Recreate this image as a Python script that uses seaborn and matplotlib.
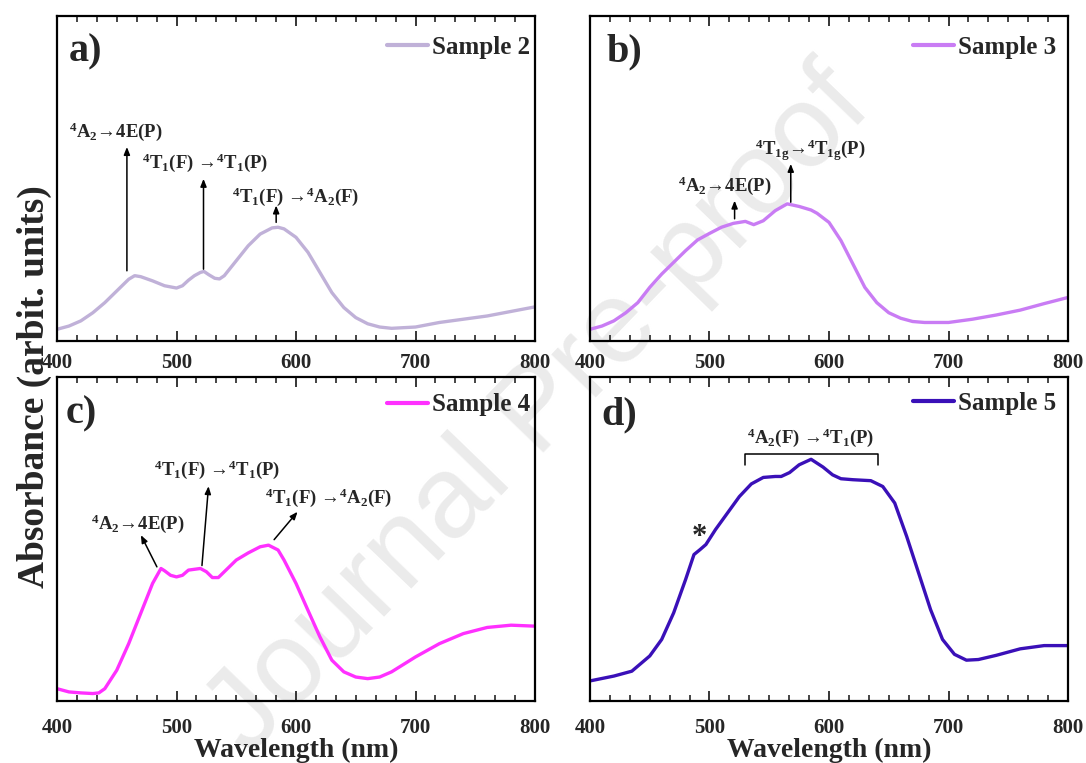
import numpy as np
import pandas as pd
import seaborn as sns
import matplotlib
matplotlib.use("Agg")
import matplotlib.pyplot as plt
from matplotlib.ticker import MultipleLocator, NullLocator

# ---------------- data (arbitrary units) ----------------
wl_a = [400, 410, 420, 430, 440, 450, 460, 465, 470, 480, 490, 500, 505, 510, 515, 520, 523, 527, 532, 536,
        540, 550, 560, 570, 580, 585, 590, 600, 610, 620, 630, 640, 650, 660, 670, 680, 700, 720, 740, 760, 780, 800]
abs_a = [0.036, 0.046, 0.062, 0.087, 0.118, 0.154, 0.190, 0.201, 0.198, 0.185, 0.170, 0.163, 0.170, 0.187, 0.201,
         0.211, 0.214, 0.204, 0.193, 0.191, 0.201, 0.247, 0.293, 0.329, 0.348, 0.350, 0.345, 0.319, 0.273, 0.211,
         0.149, 0.103, 0.072, 0.053, 0.043, 0.039, 0.043, 0.057, 0.067, 0.077, 0.091, 0.105]

wl_b = [400, 410, 420, 430, 440, 450, 460, 470, 480, 490, 500, 510, 520, 530, 537, 545, 555, 565, 575, 585, 590,
        600, 610, 620, 630, 640, 650, 660, 670, 680, 700, 720, 740, 760, 780, 800]
abs_b = [0.036, 0.046, 0.062, 0.087, 0.118, 0.165, 0.206, 0.242, 0.278, 0.311, 0.331, 0.350, 0.362, 0.368, 0.358,
         0.370, 0.401, 0.422, 0.414, 0.403, 0.393, 0.365, 0.309, 0.237, 0.165, 0.118, 0.087, 0.070, 0.060, 0.057,
         0.057, 0.067, 0.080, 0.095, 0.115, 0.134]

wl_c = [400, 410, 420, 430, 435, 440, 450, 460, 470, 480, 487, 490, 495, 500, 505, 510, 520, 525, 530, 535, 540,
        550, 560, 570, 577, 585, 590, 600, 610, 620, 630, 640, 650, 660, 670, 680, 700, 720, 740, 760, 780, 800]
abs_c = [0.038, 0.028, 0.025, 0.023, 0.025, 0.038, 0.095, 0.177, 0.270, 0.363, 0.409, 0.402, 0.388, 0.383, 0.388,
         0.404, 0.409, 0.399, 0.381, 0.381, 0.399, 0.435, 0.457, 0.476, 0.481, 0.466, 0.435, 0.363, 0.280, 0.198,
         0.126, 0.090, 0.074, 0.069, 0.074, 0.090, 0.136, 0.177, 0.208, 0.227, 0.234, 0.231]

wl_d = [400, 420, 435, 450, 460, 470, 480, 487, 492, 497, 505, 515, 525, 535, 545, 555, 560, 567, 575, 585, 595,
        603, 610, 620, 635, 645, 655, 665, 675, 685, 695, 705, 715, 725, 740, 760, 780, 800]
abs_d = [0.062, 0.077, 0.092, 0.139, 0.190, 0.272, 0.375, 0.452, 0.467, 0.483, 0.529, 0.580, 0.631, 0.670, 0.690,
         0.693, 0.693, 0.705, 0.729, 0.746, 0.722, 0.698, 0.686, 0.683, 0.680, 0.662, 0.611, 0.508, 0.395, 0.282,
         0.190, 0.144, 0.126, 0.128, 0.141, 0.161, 0.171, 0.171]

samples = ["Sample 2", "Sample 3", "Sample 4", "Sample 5"]
panel_tags = ["a)", "b)", "c)", "d)"]
colors = ["#C0B1D8", "#C97CF4", "#FF30FF", "#3A10B8"]
x_ticks = [400, 500, 600, 700, 800]

# ---------------- style ----------------
sns.set_style("ticks")
plt.rcParams["font.family"] = ["Liberation Serif", "DejaVu Serif"]
plt.rcParams["font.weight"] = "bold"
plt.rcParams["mathtext.fontset"] = "custom"
plt.rcParams["mathtext.rm"] = "Liberation Serif:bold"
plt.rcParams["mathtext.bf"] = "Liberation Serif:bold"
plt.rcParams["mathtext.it"] = "Liberation Serif:bold:italic"
plt.rcParams["mathtext.default"] = "rm"

fig = plt.figure(figsize=(10.86, 7.63), dpi=100)
W, H = 1086.0, 763.0
boxes = [(57, 16, 535, 341), (590, 16, 1068, 341), (57, 377, 535, 701), (590, 377, 1068, 701)]
axes = []
for (l, t, r, b) in boxes:
    ax = fig.add_axes([l / W, 1 - b / H, (r - l) / W, (b - t) / H])
    axes.append(ax)

data = [(wl_a, abs_a), (wl_b, abs_b), (wl_c, abs_c), (wl_d, abs_d)]
tag_pos = [(0.025, 0.89), (0.035, 0.89), (0.018, 0.887), (0.024, 0.882)]
leg_anchor = [(1.0, 0.955), (0.985, 0.955), (1.0, 0.965), (0.985, 0.97)]

for i, ax in enumerate(axes):
    df = pd.DataFrame({"Wavelength (nm)": data[i][0], "Absorbance": data[i][1]})
    sns.lineplot(data=df, x="Wavelength (nm)", y="Absorbance", ax=ax, color=colors[i],
                 linewidth=2.4, label=samples[i])
    ax.set_facecolor("none")
    ax.set_xlim(400, 800)
    ax.set_ylim(0, 1)
    ax.xaxis.set_major_locator(MultipleLocator(100))
    ax.xaxis.set_minor_locator(MultipleLocator(100 / 6))
    ax.yaxis.set_major_locator(NullLocator())
    ax.yaxis.set_minor_locator(NullLocator())
    ax.set_xticks(x_ticks)
    ax.set_xticklabels([str(v) for v in x_ticks], fontsize=15, fontweight="bold")
    ax.tick_params(axis="x", which="major", direction="in", length=7, width=1.3, top=True,
                   pad=(9 if i < 2 else 12))
    ax.tick_params(axis="x", which="minor", direction="in", length=4, width=1.2, top=True)
    for s in ax.spines.values():
        s.set_linewidth(1.6)
        s.set_color("black")
        s.set_visible(True)
    ax.set_ylabel("")
    if i >= 2:
        ax.set_xlabel("Wavelength (nm)", fontsize=20, fontweight="bold", labelpad=0)
    else:
        ax.set_xlabel("")
    ax.text(tag_pos[i][0], tag_pos[i][1], panel_tags[i], transform=ax.transAxes,
            fontsize=29, fontweight="bold", ha="left", va="center")
    leg = ax.legend(loc="upper right", bbox_to_anchor=leg_anchor[i], frameon=False,
                    handlelength=1.65, handletextpad=0.15, borderaxespad=0.1, borderpad=0.1,
                    prop={"size": 18, "weight": "bold"})
    for h in leg.legend_handles:
        h.set_linewidth(3)

arrow_kw = dict(arrowstyle="-|>,head_length=0.45,head_width=0.18", color="black", lw=1.1,
                shrinkA=0, shrinkB=0)
fs = 13.5

# panel a
ax = axes[0]
ax.annotate("", xy=(458.5, 0.597), xytext=(458.5, 0.216), arrowprops=arrow_kw)
ax.text(448.8, 0.643, r"$^{4}$A$_{2}$→4E(P)", fontsize=fs, ha="center", va="center")
ax.annotate("", xy=(522.6, 0.499), xytext=(522.6, 0.221), arrowprops=arrow_kw)
ax.text(524.0, 0.547, r"$^{4}$T$_{1}$(F) →$^{4}$T$_{1}$(P)", fontsize=fs, ha="center", va="center")
ax.annotate("", xy=(583.4, 0.417), xytext=(583.4, 0.365), arrowprops=arrow_kw)
ax.text(599.3, 0.444, r"$^{4}$T$_{1}$(F) →$^{4}$A$_{2}$(F)", fontsize=fs, ha="center", va="center")

# panel b
ax = axes[1]
ax.annotate("", xy=(521, 0.432), xytext=(521, 0.376), arrowprops=arrow_kw)
ax.text(513, 0.478, r"$^{4}$A$_{2}$→4E(P)", fontsize=fs, ha="center", va="center")
ax.annotate("", xy=(568, 0.545), xytext=(568, 0.427), arrowprops=arrow_kw)
ax.text(584, 0.586, r"$^{4}$T$_{1g}$→$^{4}$T$_{1g}$(P)", fontsize=fs, ha="center", va="center")

# panel c
ax = axes[2]
ax.annotate("", xy=(470.2, 0.512), xytext=(483.6, 0.414), arrowprops=arrow_kw)
ax.text(467.5, 0.548, r"$^{4}$A$_{2}$→4E(P)", fontsize=fs, ha="center", va="center")
ax.annotate("", xy=(526.8, 0.663), xytext=(521.3, 0.418), arrowprops=arrow_kw)
ax.text(533.8, 0.713, r"$^{4}$T$_{1}$(F) →$^{4}$T$_{1}$(P)", fontsize=fs, ha="center", va="center")
ax.annotate("", xy=(601.3, 0.584), xytext=(581.7, 0.498), arrowprops=arrow_kw)
ax.text(627.2, 0.628, r"$^{4}$T$_{1}$(F) →$^{4}$A$_{2}$(F)", fontsize=fs, ha="center", va="center")

# panel d
ax = axes[3]
ax.text(491.6, 0.505, "*", fontsize=22, ha="center", va="center")
ax.plot([529.6, 529.6, 640.8, 640.8], [0.729, 0.763, 0.763, 0.729], color="black", lw=1.1)
ax.text(584.4, 0.811, r"$^{4}$A$_{2}$(F) →$^{4}$T$_{1}$(P)", fontsize=fs, ha="center", va="center")

# shared y label
fig.text(0.032, 0.493, "Absorbance (arbit. units)", rotation=90, fontsize=27, fontweight="bold",
         ha="center", va="center")

# watermark
fig.text(0.497, 0.46, "Journal Pre-proof", rotation=46, fontsize=84, color="#ebebeb",
         family="Liberation Sans", fontweight="normal", ha="center", va="center", zorder=-5)

fig.savefig("out.png", dpi=100)
